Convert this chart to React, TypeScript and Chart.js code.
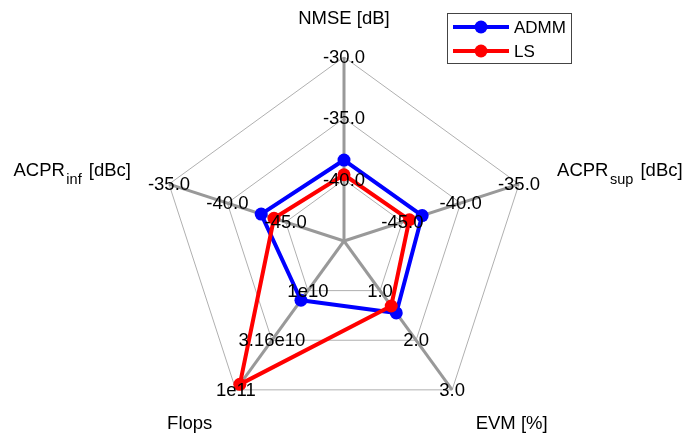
import { useEffect, useRef } from 'react';
import { Chart, registerables } from 'chart.js';

Chart.register(...registerables);

// Axes, clockwise from the top
const axisMain = ['NMSE [dB]', 'ACPR', 'EVM [%]', 'Flops', 'ACPR'];
const axisSub = ['', 'sup', '', '', 'inf'];
const axisUnit = ['', ' [dBc]', '', '', ' [dBc]'];

// Value at the centre and at the outer ring of each axis
const axisLow = [-45, -50, 0, 3.162e9, -50];
const axisHigh = [-30, -35, 3, 1e11, -35];
const axisLog = [false, false, false, true, false];

// Tick labels for rings 1, 2, 3 on each axis
const nmseTicks = ['-40.0', '-35.0', '-30.0'];
const acprSupTicks = ['-45.0', '-40.0', '-35.0'];
const evmTicks = ['1.0', '2.0', '3.0'];
const flopsTicks = ['1e10', '3.16e10', '1e11'];
const acprInfTicks = ['-45.0', '-40.0', '-35.0'];
const ringTicks = [nmseTicks, acprSupTicks, evmTicks, flopsTicks, acprInfTicks];

// Series values (NMSE, ACPR_sup, EVM, Flops, ACPR_inf)
const admmValues = [-38.4, -43.3, 1.45, 1.25e10, -42.9];
const lsValues = [-39.6, -44.4, 1.31, 8.8e10, -44.0];

const RINGS = 3;
const FONT = '"Liberation Sans", Arial, Helvetica, sans-serif';

function toRing(v: number, i: number): number {
  const t = (x: number) => (axisLog[i] ? Math.log10(x) : x);
  return (RINGS * (t(v) - t(axisLow[i]))) / (t(axisHigh[i]) - t(axisLow[i]));
}

// Axis title with an optional subscript, vertically centred on (x, y)
function drawAxisLabel(ctx: CanvasRenderingContext2D, i: number, x: number, y: number, align: string) {
  const mainSize = 18.5;
  const subSize = 14.5;
  const parts = [
    { text: axisMain[i], size: mainSize, dy: 0, gapAfter: axisSub[i] ? 1.5 : 0 },
    { text: axisSub[i], size: subSize, dy: 8, gapAfter: 2 },
    { text: axisUnit[i], size: mainSize, dy: 0, gapAfter: 0 },
  ].filter((p) => p.text.length > 0);
  const widths = parts.map((p) => {
    ctx.font = `${p.size}px ${FONT}`;
    return ctx.measureText(p.text).width + p.gapAfter;
  });
  const total = widths.reduce((a, b) => a + b, 0);
  let cx = align === 'left' ? x : align === 'right' ? x - total : x - total / 2;
  // alphabetic baseline so that the subscript drop is exact
  const baseline = y + 0.36 * mainSize - (parts.length > 1 ? 2 : 0);
  ctx.textAlign = 'left';
  ctx.textBaseline = 'alphabetic';
  parts.forEach((p, k) => {
    ctx.font = `${p.size}px ${FONT}`;
    ctx.fillText(p.text, cx, baseline + p.dy);
    cx += widths[k];
  });
}

const overlayPlugin = {
  id: 'radarOverlay',
  afterDatasetsDraw(chart: any) {
    const ctx: CanvasRenderingContext2D = chart.ctx;
    const scale = chart.scales.r;
    ctx.save();
    ctx.fillStyle = '#000000';

    // per-axis tick labels at the ring vertices
    ctx.font = `18.5px ${FONT}`;
    ctx.textAlign = 'center';
    ctx.textBaseline = 'middle';
    ringTicks.forEach((ticks, i) => {
      ticks.forEach((t, k) => {
        const p = scale.getPointPositionForValue(i, k + 1);
        ctx.fillText(t, p.x, p.y + 1);
      });
    });

    // axis titles
    axisMain.forEach((_, i) => {
      const p = scale.getPointPosition(i, 224);
      const dx = p.x - scale.xCenter;
      const align = dx > 1 ? 'left' : dx < -1 ? 'right' : 'center';
      drawAxisLabel(ctx, i, p.x, p.y, align);
    });

    // legend box
    const bx = 447.5, by = 13.5, bw = 124, bh = 50;
    ctx.fillStyle = 'rgba(255,255,255,0.85)';
    ctx.fillRect(bx, by, bw, bh);
    ctx.strokeStyle = '#444444';
    ctx.lineWidth = 1;
    ctx.strokeRect(bx, by, bw, bh);
    const entries = chart.data.datasets;
    entries.forEach((ds: any, k: number) => {
      const y = 27 + k * 24;
      ctx.strokeStyle = ds.borderColor;
      ctx.lineWidth = 4;
      ctx.beginPath();
      ctx.moveTo(453, y);
      ctx.lineTo(509, y);
      ctx.stroke();
      ctx.fillStyle = ds.borderColor;
      ctx.beginPath();
      ctx.arc(481, y, 6.5, 0, Math.PI * 2);
      ctx.fill();
      ctx.fillStyle = '#000000';
      ctx.font = `17px ${FONT}`;
      ctx.textAlign = 'left';
      ctx.textBaseline = 'middle';
      ctx.fillText(ds.label, 514, y + 1);
    });
    ctx.restore();
  },
};

export default function App() {
  const canvasRef = useRef<HTMLCanvasElement | null>(null);

  useEffect(() => {
    if (!canvasRef.current) return;
    const labels = axisMain.map((m, i) => (axisSub[i] ? `${m}_${axisSub[i]}${axisUnit[i]}` : m));
    const series = (label: string, values: number[], color: string, order: number) => ({
      label,
      data: values.map((v, i) => toRing(v, i)),
      borderColor: color,
      backgroundColor: color,
      pointBackgroundColor: color,
      pointBorderColor: color,
      pointBorderWidth: 0,
      pointRadius: 6.5,
      borderWidth: 4,
      borderJoinStyle: 'round' as const,
      fill: false,
      order,
    });
    const chart = new Chart(canvasRef.current, {
      type: 'radar',
      data: {
        labels,
        datasets: [
          series('ADMM', admmValues, '#0000ff', 2),
          series('LS', lsValues, '#ff0000', 1),
        ],
      },
      options: {
        animation: false,
        responsive: false,
        layout: { padding: { left: 160, right: 157, top: 57, bottom: 13 } },
        plugins: { legend: { display: false }, tooltip: { enabled: false } },
        elements: { line: { tension: 0 } },
        scales: {
          r: {
            min: 0,
            max: RINGS,
            ticks: { display: false, stepSize: 1 },
            pointLabels: { display: false },
            grid: { color: '#b0b0b0', lineWidth: 1 },
            angleLines: { color: '#999999', lineWidth: 3 },
          },
        },
      },
      plugins: [overlayPlugin],
    });
    return () => chart.destroy();
  }, []);

  return (
    <div style={{ position: 'absolute', left: 0, top: 0, width: 685, height: 438 }}>
      <canvas ref={canvasRef} width={685} height={438} style={{ display: 'block', width: 685, height: 438 }} />
    </div>
  );
}
